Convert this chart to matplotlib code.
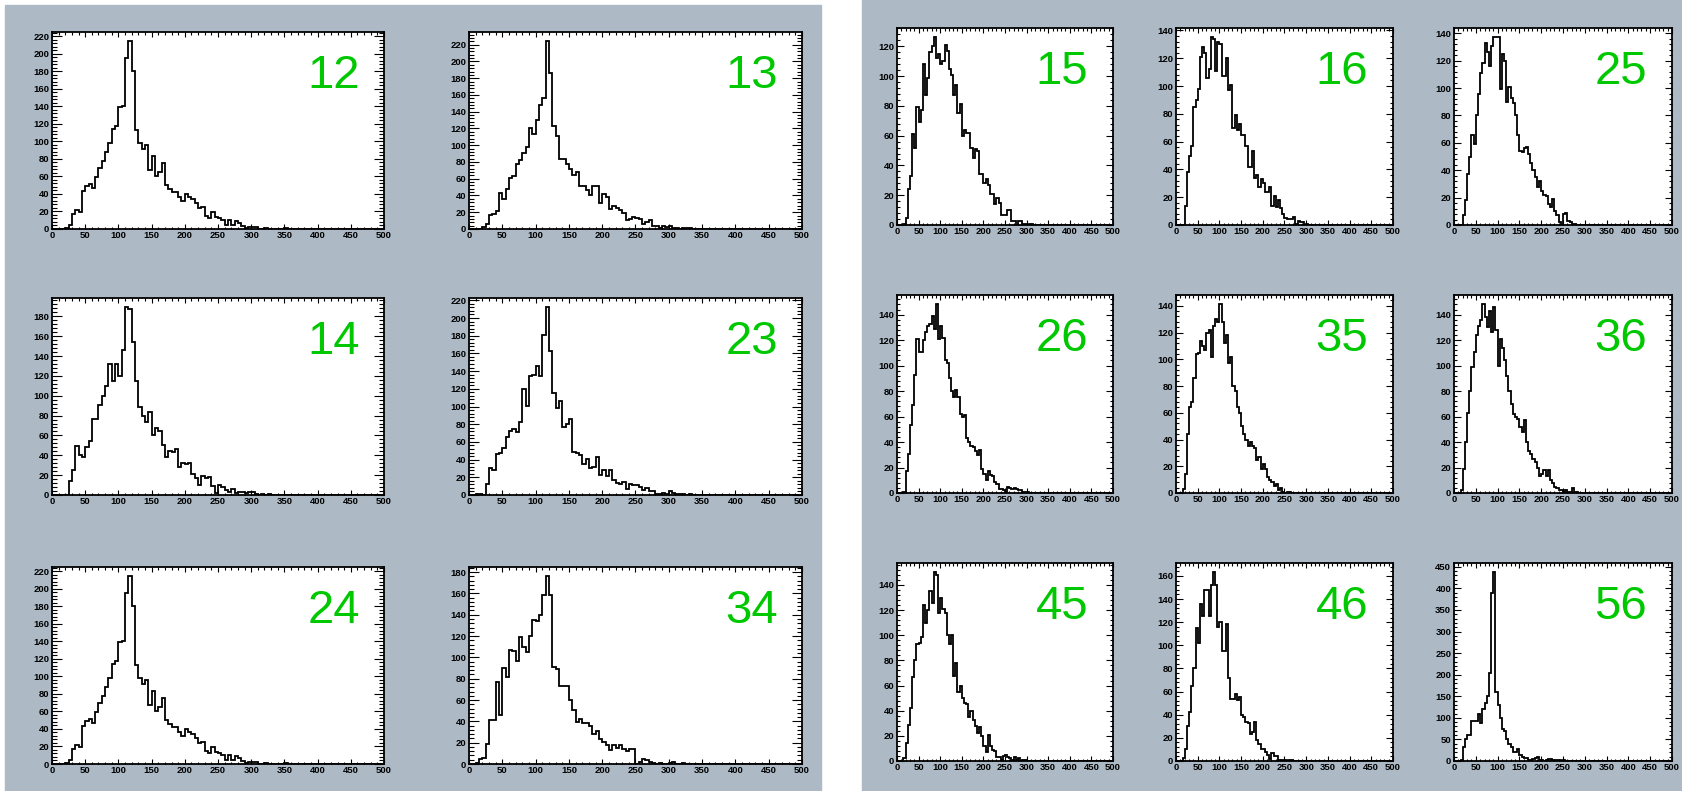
import numpy as np
import matplotlib
matplotlib.use('Agg')
import matplotlib.pyplot as plt
from matplotlib.patches import Rectangle
from matplotlib.ticker import MultipleLocator

plt.rcParams['font.family'] = ['Liberation Sans', 'DejaVu Sans']

# 100 bins of width 5 between 0 and 500, counts read from bin 0 upward
edges = np.arange(0, 505, 5)

h12 = [0, 0, 0, 0, 1, 5, 17, 22, 19, 43, 49, 51, 47, 59, 70, 78, 88, 98, 114, 118,
       139, 140, 195, 214, 180, 113, 98, 91, 96, 67, 83, 60, 65, 75, 50, 46, 42, 42, 37, 32,
       40, 36, 34, 30, 24, 25, 15, 13, 19, 14, 12, 10, 4, 10, 4, 9, 7, 3, 1, 2,
       2, 2, 0, 0, 1, 0, 0, 0, 0, 0, 1]
h13 = [0, 0, 0, 0, 2, 6, 17, 18, 21, 43, 36, 48, 61, 63, 78, 82, 91, 98, 120, 113,
       130, 148, 156, 224, 186, 123, 111, 83, 83, 78, 72, 64, 68, 51, 51, 46, 41, 51, 51, 31,
       42, 38, 24, 28, 25, 23, 19, 11, 12, 14, 13, 12, 6, 8, 11, 3, 4, 1, 3, 2,
       3, 1, 1, 0, 1, 1, 1]
h14 = [0, 0, 0, 0, 0, 14, 25, 49, 40, 38, 48, 54, 77, 77, 91, 100, 110, 132, 115, 132,
       120, 146, 189, 187, 154, 115, 89, 80, 74, 84, 60, 67, 64, 50, 38, 44, 43, 46, 28, 32,
       31, 32, 21, 17, 10, 19, 17, 18, 9, 2, 10, 8, 5, 3, 6, 2, 3, 3, 2, 3,
       3, 1, 0, 1, 0, 1]
h23 = [0, 0, 1, 1, 0, 12, 30, 28, 46, 47, 53, 66, 72, 75, 71, 83, 120, 101, 135, 136,
       146, 134, 181, 212, 163, 115, 98, 106, 77, 80, 86, 49, 47, 45, 35, 41, 31, 32, 43, 23,
       28, 22, 28, 17, 13, 12, 15, 7, 12, 11, 11, 9, 6, 8, 4, 4, 1, 1, 2, 1,
       4, 2, 1, 1, 1, 0, 1]
h24 = list(h12)  # looks identical to 12
h34 = [0, 0, 1, 5, 6, 19, 41, 41, 77, 46, 90, 82, 107, 106, 97, 119, 110, 105, 120, 135,
       134, 140, 159, 176, 159, 91, 89, 73, 73, 73, 60, 51, 39, 42, 38, 38, 36, 28, 31, 23,
       21, 18, 13, 18, 15, 18, 14, 12, 14, 14, 0, 2, 5, 4, 2, 1, 0, 1, 0, 0,
       1, 2, 0, 0, 1]

h15 = [0, 0, 0, 1, 5, 24, 33, 61, 52, 79, 69, 77, 108, 87, 99, 116, 120, 126, 112, 115,
       108, 110, 121, 117, 105, 101, 87, 94, 75, 81, 60, 64, 62, 62, 52, 45, 51, 50, 34, 34,
       28, 31, 27, 21, 21, 14, 18, 15, 7, 7, 7, 10, 10, 3, 3, 0, 3, 3, 1, 1,
       0, 1, 1]
h16 = [0, 0, 0, 0, 14, 38, 50, 57, 85, 90, 98, 121, 128, 124, 106, 112, 135, 134, 111, 132,
       130, 107, 107, 120, 97, 101, 70, 79, 68, 73, 65, 65, 57, 42, 42, 53, 34, 36, 27, 33,
       30, 24, 24, 27, 14, 21, 13, 18, 12, 8, 5, 4, 4, 4, 6, 1, 3, 2, 2, 0,
       1]
h25 = [0, 0, 0, 0, 7, 18, 37, 50, 66, 59, 80, 96, 111, 118, 133, 126, 116, 131, 137, 137,
       137, 99, 125, 120, 90, 101, 93, 89, 80, 66, 54, 53, 56, 57, 52, 45, 40, 35, 28, 32,
       25, 22, 21, 15, 13, 19, 10, 7, 2, 0, 8, 9, 3, 2, 1, 1]
h26 = [0, 0, 0, 1, 17, 31, 53, 69, 93, 121, 111, 111, 120, 126, 131, 133, 139, 129, 148, 121,
       131, 122, 104, 102, 90, 80, 75, 81, 75, 62, 60, 61, 43, 40, 37, 36, 33, 30, 34, 19,
       15, 10, 17, 14, 13, 9, 7, 3, 3, 2, 1, 5, 4, 3, 4, 3, 2, 2, 1, 1,
       1]
h35 = [0, 0, 0, 3, 14, 44, 64, 68, 86, 104, 105, 114, 110, 107, 120, 122, 102, 125, 130, 128,
       141, 128, 112, 118, 97, 102, 80, 76, 64, 60, 50, 44, 40, 35, 38, 35, 34, 25, 27, 18,
       22, 18, 12, 10, 8, 5, 7, 2, 4, 1, 0, 1, 1]
h36 = [0, 0, 0, 2, 19, 40, 63, 80, 99, 111, 124, 131, 136, 148, 138, 130, 143, 126, 146, 128,
       100, 121, 114, 104, 92, 80, 70, 62, 60, 58, 52, 48, 57, 40, 33, 31, 27, 24, 20, 13,
       15, 18, 13, 18, 10, 8, 5, 4, 2, 2, 1, 2, 1, 1, 4, 1, 1]
h45 = [0, 0, 0, 2, 14, 29, 42, 67, 80, 93, 94, 99, 124, 110, 120, 135, 126, 150, 148, 118,
       130, 121, 118, 100, 93, 100, 68, 78, 55, 60, 50, 46, 45, 35, 40, 33, 28, 22, 27, 20,
       12, 7, 21, 12, 9, 8, 3, 3, 1, 4, 5, 3, 2, 1, 3, 1, 2, 0, 1, 1]
h46 = [0, 0, 0, 3, 10, 30, 42, 65, 80, 115, 102, 136, 125, 148, 148, 125, 152, 163, 152, 116,
       120, 95, 95, 118, 72, 54, 54, 58, 53, 55, 40, 38, 34, 33, 23, 25, 34, 18, 15, 10,
       10, 8, 5, 2, 7, 4, 4, 1, 1, 1, 1, 0, 1, 1]
h56 = [0, 0, 0, 2, 33, 50, 60, 60, 92, 92, 92, 108, 88, 120, 135, 150, 205, 390, 437, 160,
       130, 100, 73, 70, 50, 40, 33, 20, 20, 28, 15, 10, 8, 7, 3, 3, 4, 7, 9, 3,
       3, 0, 2, 4, 5, 3, 3, 2, 3, 1, 2, 1]

left_names = ['12', '13', '14', '23', '24', '34']
left_hists = [h12, h13, h14, h23, h24, h34]
right_names = ['15', '16', '25', '26', '35', '36', '45', '46', '56']
right_hists = [h15, h16, h25, h26, h35, h36, h45, h46, h56]

W, H = 1683, 791
grey = '#adbac6'
green = '#00c800'

fig = plt.figure(figsize=(W/100, H/100), dpi=100)
fig.patch.set_facecolor('white')

def px_box(x0, y0, x1, y1):
    # pixel box with top-left origin -> figure fraction
    return [x0/W, 1 - y1/H, (x1-x0)/W, (y1-y0)/H]

fig.patches.append(Rectangle((5/W, 0), 816/W, 786/H, transform=fig.transFigure,
                             color=grey, zorder=-10))
fig.patches.append(Rectangle((862/W, 0), 821/W, 1, transform=fig.transFigure,
                             color=grey, zorder=-10))

def draw(box, counts, name, ylen, lab_x):
    ax = fig.add_axes(px_box(*box))
    c = np.array(counts + [0]*(100-len(counts)))
    ax.stairs(c, edges, color='black', lw=1.3)
    ax.set_xlim(0, 500)
    ax.set_ylim(0, 1.05*c.max())
    ystep = 50 if c.max() > 300 else 20
    ax.xaxis.set_major_locator(MultipleLocator(50))
    ax.xaxis.set_minor_locator(MultipleLocator(10))
    ax.yaxis.set_major_locator(MultipleLocator(ystep))
    ax.yaxis.set_minor_locator(MultipleLocator(ystep/5))
    ax.tick_params(which='both', direction='in', top=True, right=True, width=0.8)
    ax.tick_params(axis='x', which='major', length=3.6, pad=1.5)
    ax.tick_params(axis='x', which='minor', length=1.8)
    ax.tick_params(axis='y', which='major', length=ylen, pad=2)
    ax.tick_params(axis='y', which='minor', length=ylen/2)
    for lab in ax.get_xticklabels() + ax.get_yticklabels():
        lab.set_fontsize(6.8)
        lab.set_fontweight('bold')
    for s in ax.spines.values():
        s.set_linewidth(1.3)
    ax.text(lab_x, 0.715, name, transform=ax.transAxes, ha='right', va='baseline',
            fontsize=34, color=green)
    return ax

# left panel: 3 rows x 2 columns
left_cols = [(52, 384), (469, 802)]
left_rows = [(32, 229), (298, 495), (567, 764)]
for i in range(6):
    r, col = divmod(i, 2)
    x0, x1 = left_cols[col]
    y0, y1 = left_rows[r]
    draw((x0, y0, x1, y1), left_hists[i], left_names[i], 7.2, 0.928)

# right panel: 3 rows x 3 columns
right_cols = [(897, 1113), (1176, 1393), (1454, 1672)]
right_rows = [(28, 225), (295, 493), (563, 761)]
for i in range(9):
    r, col = divmod(i, 3)
    x0, x1 = right_cols[col]
    y0, y1 = right_rows[r]
    draw((x0, y0, x1, y1), right_hists[i], right_names[i], 4.8, 0.885)

plt.savefig('out.png', dpi=100)
